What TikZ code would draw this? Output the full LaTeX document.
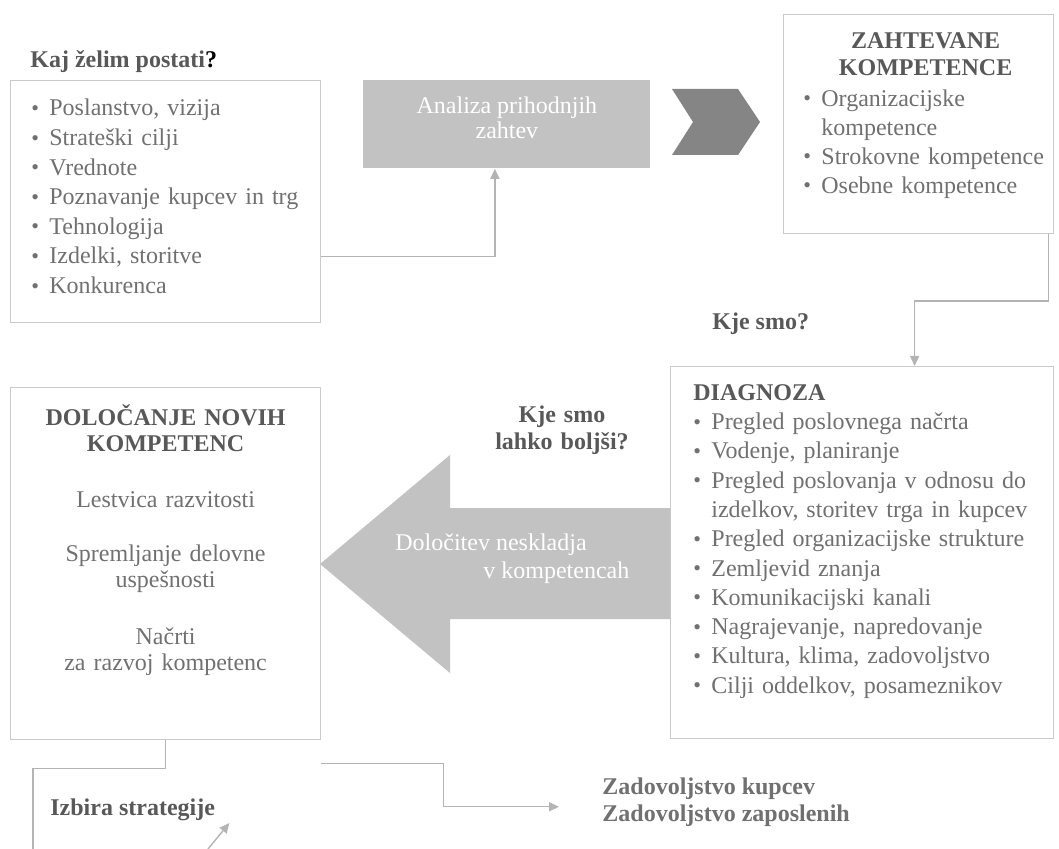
\documentclass[tikz,border=0pt]{standalone}
\usepackage{fontspec}
\setmainfont{Liberation Serif}
\usetikzlibrary{positioning,arrows.meta}

\definecolor{boxline}{HTML}{CACACA}
\definecolor{linkgray}{HTML}{B4B4B4}
\definecolor{txtgray}{HTML}{707070}
\definecolor{headgray}{HTML}{585858}
\definecolor{fillgray}{HTML}{C2C2C2}
\definecolor{darkchev}{HTML}{858585}

\newcommand{\itm}{\par\hangindent=9pt\hangafter=1\noindent\makebox[9pt][l]{\raisebox{0.2pt}{\fontsize{11}{11}\selectfont\textbullet}}}

\tikzset{
  frame/.style={draw=boxline, line width=0.6pt, anchor=north west, inner sep=0pt},
  listtext/.style={text=txtgray, align=left, inner sep=0pt, font=\fontsize{12}{14.8}\selectfont},
  head/.style={text=headgray, inner sep=0pt, font=\bfseries\fontsize{12}{13.5}\selectfont},
  link/.style={draw=linkgray, line width=0.7pt},
  linkarrow/.style={link, -{Triangle[length=5pt,width=4.5pt]}},
}

\begin{document}
\begin{tikzpicture}[x=0.5pt, y=-0.5pt]
\useasboundingbox (0,0) rectangle (1059,849);

% top row
\node[head, anchor=base west] (askgoal) at (30,68) {Kaj želim postati\textcolor{black}{?}};
\node[frame, minimum width=155pt, minimum height=121pt] (goals) at (10,80) {};
\node[listtext, text width=140pt, below right=3pt and 10.5pt of goals.north west] (goallist)
  {\itm Poslanstvo, vizija \itm Strateški cilji \itm Vrednote \itm Poznavanje kupcev in trg
   \itm Tehnologija \itm Izdelki, storitve \itm Konkurenca};

\node[fill=fillgray, anchor=north west, minimum width=143.5pt, minimum height=44pt, inner sep=0pt] (analysis) at (363,80) {};
\node[text=white, align=center, inner sep=0pt, font=\fontsize{12}{12.5}\selectfont, above=0pt of analysis.center, yshift=-7.5pt]
  (analysistext) {Analiza prihodnjih\\zahtev};
\fill[darkchev] (672,89) -- (738,89) -- (760,122) -- (738,155) -- (672,155) -- (693,122) -- cycle;

\node[frame, minimum width=135pt, minimum height=109.5pt] (required) at (783,14) {};
\node[head, text width=130pt, align=center, below=9pt of required.north, xshift=3.5pt] (reqtitle) {ZAHTEVANE\\KOMPETENCE};
\node[listtext, text width=128pt, font=\fontsize{12}{14.5}\selectfont, below right=31.5pt and 10pt of required.north west] (reqlist)
  {\itm Organizacijske\newline kompetence \itm Strokovne kompetence \itm Osebne kompetence};

\draw[linkarrow] ([yshift=-27.5pt]goals.east) -| ([xshift=-6pt]analysis.south);

% middle row
\node[head, anchor=base west] (whereq) at (712,330) {Kje smo?};
\node[frame, minimum width=191.5pt, minimum height=186pt] (diagnosis) at (670,366) {};
\node[listtext, text width=178pt, font=\fontsize{12}{14.65}\selectfont, below right=9pt and 11.5pt of diagnosis.north west] (diaglist)
  {\noindent\textbf{\color{headgray}DIAGNOZA}
   \itm Pregled poslovnega načrta \itm Vodenje, planiranje
   \itm Pregled poslovanja v odnosu do\newline izdelkov, storitev trga in kupcev
   \itm Pregled organizacijske strukture \itm Zemljevid znanja \itm Komunikacijski kanali
   \itm Nagrajevanje, napredovanje \itm Kultura, klima, zadovoljstvo \itm Cilji oddelkov, posameznikov};
\draw[linkarrow] ([xshift=-3pt]required.south east) -- ++(0,67) -| ([xshift=26.25pt]diagnosis.north);

\node[frame, minimum width=155pt, minimum height=176pt] (plan) at (10,387) {};
\node[text=txtgray, text width=150pt, align=center, inner sep=0pt, font=\fontsize{12}{13.2}\selectfont,
      below=8.5pt of plan.north] (planlist)
  {\textbf{\color{headgray}DOLOČANJE NOVIH\\KOMPETENC}\\[14.5pt]
   Lestvica razvitosti\\[14pt]
   Spremljanje delovne\\uspešnosti\\[15pt]
   Načrti\\za razvoj kompetenc};

\node[head, text width=100pt, align=center, anchor=north] (betterq) at (562,405) {Kje smo\\lahko boljši?};
\fill[fillgray] (670,508) -- (450,508) -- (450,455) -- (320,564) -- (450,673) -- (450,619) -- (670,619) -- cycle;
\node[text=white, align=left, anchor=west, inner sep=0pt, font=\fontsize{12}{14}\selectfont] (gaptext) at (395,559)
  {Določitev neskladja\\\hspace*{44pt}v kompetencah};

% bottom row
\node[head, anchor=base west] (strategy) at (50,815) {Izbira strategije};
\draw[link] (plan.south) -- ++(0,28) -| (33,849);
\draw[linkarrow] (208,849) -- ([xshift=7pt,yshift=-4pt]strategy.base east);

\node[head, text=txtgray, anchor=north west, align=left] (outcomes) at (602,777) {Zadovoljstvo kupcev\\Zadovoljstvo zaposlenih};
\draw[linkarrow] ([yshift=-11.5pt]plan.south east) -- ++(122,0) |- ([xshift=-21.5pt,yshift=-2.5pt]outcomes.west);
\end{tikzpicture}
\end{document}
